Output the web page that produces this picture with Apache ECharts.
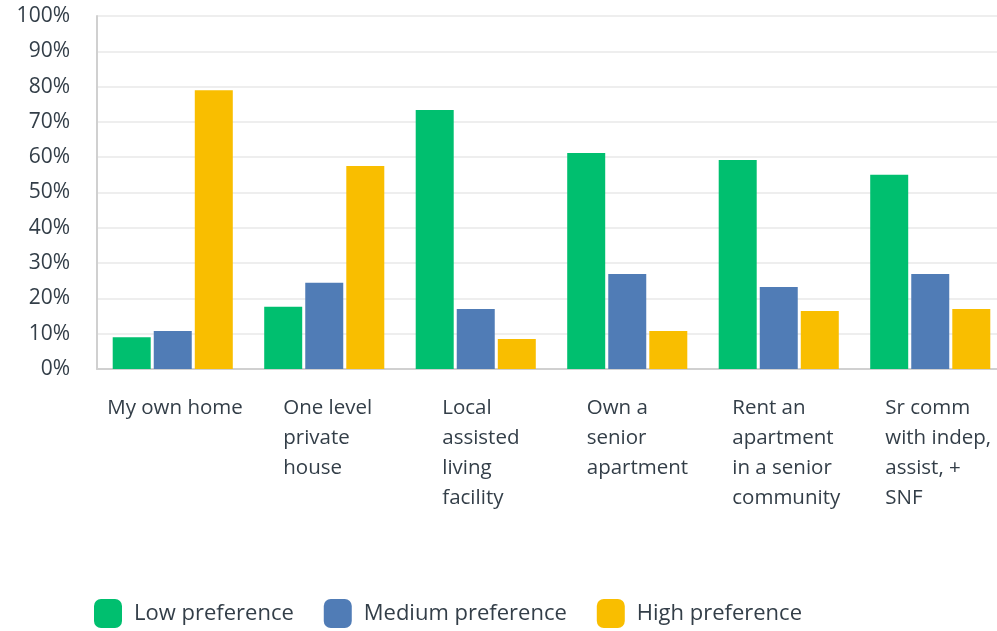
<!DOCTYPE html>
<html>
<head>
<meta charset="utf-8">
<script src="https://cdn.jsdelivr.net/npm/echarts@6/dist/echarts.min.js"></script>
<style>
  html, body { margin: 0; padding: 0; background: #fff; }
  #chart { width: 997px; height: 631px; }
</style>
</head>
<body>
<div id="chart"></div>
<script>
// categories and values
var categories = [
  'My own home',
  'One level\nprivate\nhouse',
  'Local\nassisted\nliving\nfacility',
  'Own a\nsenior\napartment',
  'Rent an\napartment\nin a senior\ncommunity',
  'Sr comm\nwith indep,\nassist, +\nSNF'
];
var lowPref = [9.0, 17.6, 73.4, 61.2, 59.2, 55.0];
var mediumPref = [10.8, 24.4, 17.0, 26.9, 23.2, 26.9];
var highPref = [79.0, 57.5, 8.5, 10.8, 16.4, 17.0];
var yTicks = [0, 10, 20, 30, 40, 50, 60, 70, 80, 90, 100];

// label block widths so lines stay left aligned inside a centred block
var labelBlock = [131, 82, 67, 81, 93, 90];

var textColor = '#333e48';
var fontName = 'Open Sans';

var rich = {};
labelBlock.forEach(function (w, i) {
  rich['w' + i] = {
    width: w,
    align: 'left',
    fontSize: 20.5,
    lineHeight: 30,
    color: textColor,
    fontFamily: fontName
  };
});

var chart = echarts.init(document.getElementById('chart'));
chart.setOption({
  backgroundColor: '#fff',
  animation: false,
  textStyle: { fontFamily: fontName },
  grid: {
    left: 97,
    top: 16,
    width: 909,
    bottom: 262,
    containLabel: false,
    outerBoundsMode: 'none'
  },
  legend: {
    left: 94,
    top: 599,
    padding: 0,
    itemWidth: 28,
    itemHeight: 29,
    itemGap: 30,
    icon: 'roundRect',
    textStyle: {
      color: textColor,
      fontSize: 22,
      fontFamily: fontName,
      padding: [0, 0, 0, 7]
    },
    data: ['Low preference', 'Medium preference', 'High preference']
  },
  xAxis: {
    type: 'category',
    data: categories,
    axisLine: { lineStyle: { color: '#d0d0d0', width: 2 } },
    axisTick: { show: false },
    axisLabel: {
      interval: 0,
      margin: 24,
      formatter: function (value, index) {
        return value.split('\n').map(function (line) {
          return '{w' + index + '|' + line + '}';
        }).join('\n');
      },
      rich: rich
    }
  },
  yAxis: {
    type: 'value',
    min: yTicks[0],
    max: yTicks[yTicks.length - 1],
    interval: 10,
    axisLine: { show: true, lineStyle: { color: '#d0d0d0', width: 2 } },
    axisTick: { show: false },
    splitLine: { lineStyle: { color: '#eeeeee', width: 2 } },
    axisLabel: {
      formatter: '{value}%',
      color: textColor,
      fontSize: 21,
      margin: 27,
      fontFamily: fontName
    }
  },
  series: [
    {
      name: 'Low preference',
      type: 'bar',
      data: lowPref,
      barWidth: 38,
      barGap: '8%',
      itemStyle: { color: '#00bf6f' }
    },
    {
      name: 'Medium preference',
      type: 'bar',
      data: mediumPref,
      barWidth: 38,
      barGap: '8%',
      itemStyle: { color: '#507cb6' }
    },
    {
      name: 'High preference',
      type: 'bar',
      data: highPref,
      barWidth: 38,
      barGap: '8%',
      itemStyle: { color: '#f9be00' }
    }
  ]
});
</script>
</body>
</html>
